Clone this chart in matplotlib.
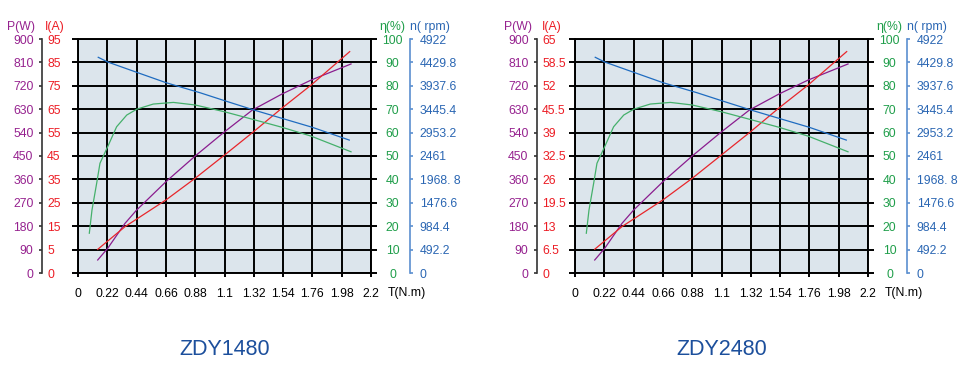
import matplotlib
matplotlib.use('Agg')
import matplotlib.pyplot as plt

plt.rcParams['font.family'] = ['Liberation Sans', 'DejaVu Sans']

# torque values where each curve was read (N.m)
t_speed = [0.152, 0.223, 0.44, 0.66, 0.916, 1.10, 1.32, 1.54, 1.76, 2.037]
t_eff = [0.085, 0.105, 0.14, 0.165, 0.223, 0.29, 0.366, 0.441, 0.565, 0.716,
         0.88, 1.10, 1.31, 1.53, 1.75, 2.05]
t_power = [0.148, 0.223, 0.353, 0.44, 0.66, 0.88, 1.10, 1.31, 1.53, 1.75, 2.05]
t_current = [0.148, 0.353, 0.66, 0.88, 1.10, 1.31, 1.53, 1.75, 2.04]

# both motors show the same curve shapes, only the current scale differs
speed_rpm = [4537, 4438, 4222, 4004, 3792, 3625, 3429, 3246, 3064, 2796]
efficiency = [17.0, 26.9, 38.3, 46.9, 54.0, 62.5, 67.5, 70.0, 72.2, 72.9,
              71.8, 68.9, 65.7, 62.3, 58.5, 51.8]
power_w = [50, 95, 191, 242, 351, 450, 543, 627, 688, 742, 804]
current_1480 = [5.1, 14.8, 26.2, 35.5, 45.4, 55.0, 65.4, 75.3, 89.6]
current_2480 = [6.6, 12.9, 20.3, 26.3, 32.8, 39.0, 45.8, 52.2, 61.5]

# axis ticks and labels
t_ticks = [0, 0.22, 0.44, 0.66, 0.88, 1.1, 1.32, 1.54, 1.76, 1.98, 2.2]
p_ticks = [0, 90, 180, 270, 360, 450, 540, 630, 720, 810, 900]
eff_ticks = [0, 10, 20, 30, 40, 50, 60, 70, 80, 90, 100]
rpm_ticks = [0, 492.2, 984.4, 1476.6, 1968.8, 2461, 2953.2, 3445.4, 3937.6, 4429.8, 4922]
rpm_labels = ['0', '492.2', '984.4', '1476.6', '1968. 8', '2461', '2953.2',
              '3445.4', '3937.6', '4429.8', '4922']
i_ticks_1480 = [-5, 5, 15, 25, 35, 45, 55, 65, 75, 85, 95]
i_labels_1480 = ['0', '5', '15', '25', '35', '45', '55', '65', '75', '85', '95']
i_ticks_2480 = [0, 6.5, 13, 19.5, 26, 32.5, 39, 45.5, 52, 58.5, 65]
i_labels_2480 = ['0', '6.5', '13', '19.5', '26', '32.5', '39', '45.5', '52', '58.5', '65']

W, H = 977, 385
C_P = '#96228f'
C_I = '#ec1c24'
C_E = '#1f9e4a'
C_N = '#2a66b3'
FS = 8.8
HEAD_Y = 1.05

fig = plt.figure(figsize=(W / 100, H / 100), dpi=100)


def draw_chart(x0, name, i_ticks, i_labels, current, p_pos, n_pos):
    ax = fig.add_axes([x0 / W, (H - 273) / H, 293 / W, 234 / H])
    axP = ax.twinx()
    axI = ax.twinx()
    axE = ax.twinx()
    axN = ax.twinx()

    # main frame with grid
    ax.set_facecolor('#dce5ec')
    ax.set_xlim(0, 2.2)
    ax.set_ylim(0, 900)
    ax.set_xticks(t_ticks, [f'{t:g}' for t in t_ticks])
    ax.set_yticks(p_ticks)
    ax.grid(True, color='black', lw=1.4)
    ax.tick_params(axis='x', direction='out', length=3, width=1.4, labelsize=FS, pad=8)
    ax.tick_params(axis='y', direction='out', length=4, width=1.4,
                   left=True, right=True, labelleft=False, labelright=False)
    for s in ax.spines.values():
        s.set_linewidth(1.4)
    ax.set_xlabel('T(N.m)', fontsize=FS, ha='left', va='center')
    ax.xaxis.set_label_coords(1.058, -0.0855)

    # power axis (left, outer spine)
    axP.set_ylim(0, 900)
    axP.set_yticks(p_ticks)
    axP.yaxis.tick_left()
    for k in ['right', 'top', 'bottom']:
        axP.spines[k].set_visible(False)
    axP.spines['left'].set_visible(True)
    axP.spines['left'].set_position(('axes', p_pos))
    axP.spines['left'].set_color('#333333')
    axP.spines['left'].set_linewidth(1.2)
    axP.tick_params(axis='y', direction='out', length=2.5, width=1.2, color='#333333',
                    labelcolor=C_P, labelsize=FS, pad=3.3)
    axP.set_ylabel('P(W)', rotation=0, color=C_P, fontsize=FS, ha='center', va='center')
    axP.yaxis.set_label_coords(-0.1945, HEAD_Y)
    axP.plot(t_power, power_w, color='#8a1c8e', lw=0.9)

    # current axis (labels right of the power spine)
    axI.set_ylim(i_ticks[0], i_ticks[-1])
    axI.set_yticks(i_ticks, i_labels)
    for s in axI.spines.values():
        s.set_visible(False)
    axI.spines['right'].set_position(('axes', p_pos))
    axI.tick_params(axis='y', length=0, labelcolor=C_I, labelsize=FS, pad=4)
    axI.set_ylabel('I(A)', rotation=0, color=C_I, fontsize=FS, ha='center', va='center')
    axI.yaxis.set_label_coords(-0.079, HEAD_Y)
    axI.plot(t_current, current, color='#e8262b', lw=0.9)

    # efficiency axis (centred labels, no spine)
    axE.set_ylim(0, 100)
    axE.set_yticks(eff_ticks)
    for s in axE.spines.values():
        s.set_visible(False)
    axE.tick_params(axis='y', length=0, labelcolor=C_E, labelsize=FS, pad=15.6)
    plt.setp(axE.get_yticklabels(), ha='center')
    axE.set_ylabel('η(%)', rotation=0, color=C_E, fontsize=FS, ha='center', va='center')
    axE.yaxis.set_label_coords(1.072, HEAD_Y)
    axE.plot(t_eff, efficiency, color='#45b06b', lw=0.9)

    # speed axis (right, outer blue spine)
    axN.set_ylim(0, 4922)
    axN.set_yticks(rpm_ticks, rpm_labels)
    for k in ['left', 'top', 'bottom']:
        axN.spines[k].set_visible(False)
    axN.spines['right'].set_position(('axes', n_pos))
    axN.spines['right'].set_color('#5b8fcf')
    axN.spines['right'].set_linewidth(1.2)
    axN.tick_params(axis='y', direction='out', length=2.5, width=1.2, color='#5b8fcf',
                    labelcolor=C_N, labelsize=FS, pad=4.4)
    axN.set_ylabel('n( rpm)', rotation=0, color=C_N, fontsize=FS, ha='center', va='center')
    axN.yaxis.set_label_coords(1.201, HEAD_Y)
    axN.plot(t_speed, speed_rpm, color='#1f6cc0', lw=0.9)

    ax.text(0.5, -0.325, name, transform=ax.transAxes, ha='center', va='center',
            fontsize=15.5, color='#1c4f9c')


draw_chart(78, 'ZDY1480', i_ticks_1480, i_labels_1480, current_1480, -0.124, 1.134)
draw_chart(575, 'ZDY2480', i_ticks_2480, i_labels_2480, current_2480, -0.131, 1.134)

fig.savefig('out.png', dpi=100)
